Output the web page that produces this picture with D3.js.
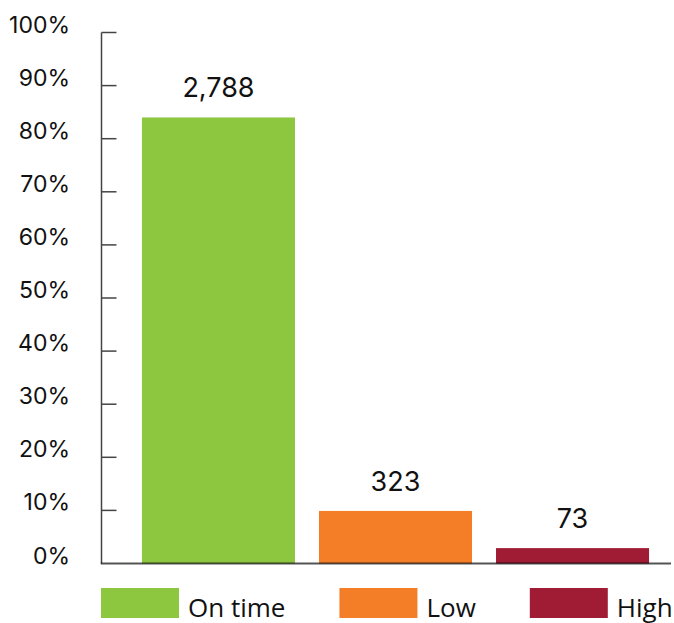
<!DOCTYPE html>
<html>
<head>
<meta charset="utf-8">
<script src="https://cdn.jsdelivr.net/npm/d3@7"></script>
<style>
  html, body { margin: 0; padding: 0; background: #ffffff; }
</style>
</head>
<body>
<div id="chart"></div>
<script>
var categories = ['On time', 'Low', 'High'];
var shares = [84.0, 9.9, 2.9];          // bar height, % of total
var counts = ['2,788', '323', '73'];    // label above each bar
var colors = ['#8dc63f', '#f47d27', '#a01c34'];
var yTicks = [0, 10, 20, 30, 40, 50, 60, 70, 80, 90, 100];

var width = 674, height = 623;
var axisX = 101.5, baseY = 563.5, topY = 32.5;

var svg = d3.select('#chart').append('svg')
        .attr('width', width)
        .attr('height', height);

var x = d3.scaleBand()
        .domain(categories)
        .range([120, 671])
        .paddingInner(0.1356)
        .paddingOuter(0.124);

var y = d3.scaleLinear()
        .domain([0, 100])
        .range([baseY, topY]);

// bars
svg.append('g').selectAll('rect')
        .data(categories)
        .enter().append('rect')
        .attr('x', function(d){ return x(d); })
        .attr('y', function(d, i){ return y(shares[i]); })
        .attr('width', x.bandwidth())
        .attr('height', function(d, i){ return baseY - y(shares[i]); })
        .attr('fill', function(d, i){ return colors[i]; });

// value labels
svg.append('g').selectAll('text')
        .data(categories)
        .enter().append('text')
        .attr('x', function(d){ return x(d) + x.bandwidth() / 2; })
        .attr('y', function(d, i){ return y(shares[i]) - 20; })
        .attr('text-anchor', 'middle')
        .style('font', '27px Inter, sans-serif')
        .attr('fill', '#111')
        .text(function(d, i){ return counts[i]; });

// y axis line + ticks
var axis = svg.append('g');
axis.append('line')
        .attr('x1', axisX).attr('x2', axisX)
        .attr('y1', topY).attr('y2', baseY)
        .attr('stroke', '#444').attr('stroke-width', 1.5);

axis.selectAll('.tick')
        .data(yTicks.slice(1))
        .enter().append('line')
        .attr('x1', axisX).attr('x2', axisX + 15)
        .attr('y1', function(d){ return y(d); })
        .attr('y2', function(d){ return y(d); })
        .attr('stroke', '#444').attr('stroke-width', 1.5);

axis.selectAll('.label')
        .data(yTicks)
        .enter().append('text')
        .attr('x', 70)
        .attr('y', function(d){ return y(d); })
        .attr('text-anchor', 'end')
        .style('font', '23px Inter, sans-serif')
        .attr('fill', '#111')
        .text(function(d){ return d + '%'; });

// baseline over the bars
svg.append('line')
        .attr('x1', axisX - 0.75).attr('x2', 671)
        .attr('y1', baseY).attr('y2', baseY)
        .attr('stroke', '#000').attr('stroke-opacity', 0.67)
        .attr('stroke-width', 2);

// legend: swatch, label, then a fixed gap before the next item
var legend = svg.append('g').attr('transform', 'translate(101,588)');
var lx = 0;
categories.forEach(function(d, i){
    var item = legend.append('g').attr('transform', 'translate(' + lx + ',0)');
    item.append('rect')
            .attr('width', 78)
            .attr('height', 30)
            .attr('fill', colors[i]);
    var t = item.append('text')
            .attr('x', 87)
            .attr('y', 28.5)
            .style('font', '26px "Open Sans", sans-serif')
            .attr('fill', '#111')
            .text(d);
    lx += 87 + t.node().getComputedTextLength() + 54;
});
</script>
</body>
</html>
